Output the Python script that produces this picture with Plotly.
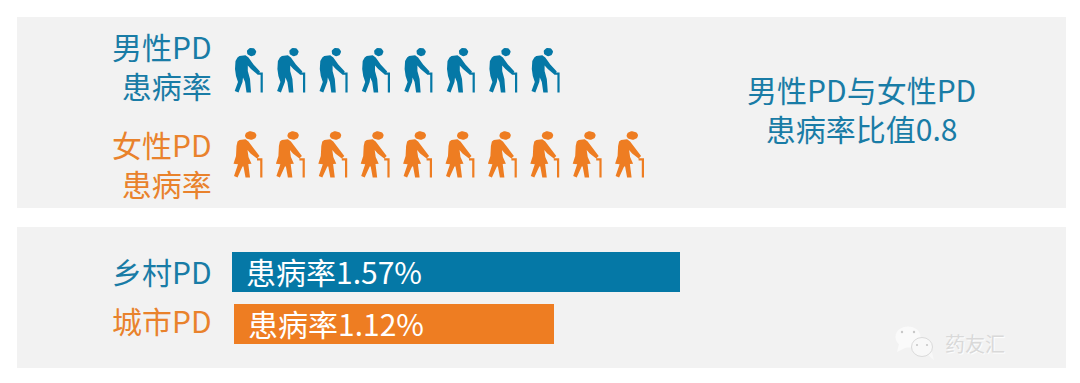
import math
import plotly.graph_objects as go

W, H = 1080, 383
BLUE, ORANGE = "#0578A6", "#EE7D22"
BLUE_TXT, ORANGE_TXT = "#197CA6", "#E9822C"
PANEL = "#F2F2F2"
FONT = "Noto Sans CJK SC, Noto Sans, sans-serif"

# data
area_labels = ["乡村PD", "城市PD"]
area_rates = [1.57, 1.12]
area_bases = [0.0, 0.007]
icon_counts = [8, 10]
ratio_lines = ["男性PD与女性PD", "患病率比值0.8"]

# bar scale / icon grid scale
PX_PER_RATE = 285.35
PITCH = 42.4
ROW = 84.0


def px(v):
    return v / W


def py(v):
    return 1 - v / H


def ellipse(cx, cy, rx, ry, n=28):
    return [(cx + rx * math.cos(2 * math.pi * i / n), cy + ry * math.sin(2 * math.pi * i / n)) for i in range(n)]


male_parts = [
    ellipse(21.5, 8, 4.7, 4.2),
    [(9.5, 12), (15.5, 11.3), (18.5, 13.5), (23.5, 20.5), (30, 27.5), (27.5, 30.5), (21, 25), (17.8, 21.5), (17.8, 27),
     (20, 35), (21, 48.5), (16.5, 48.5), (15, 38), (13, 33.5), (12.5, 38), (8.5, 48.5), (4.7, 47), (8, 38), (6, 32),
     (5, 25), (5.5, 17), (7.5, 13.5)],
    [(27.5, 28.6), (32.8, 28.6), (32.8, 48.5), (30.6, 48.5), (30.6, 30.8), (27.5, 30.8)],
]
female_parts = [
    ellipse(20.7, 7.5, 5.7, 4.3),
    [(9.5, 12), (15.5, 11.3), (18.5, 13.5), (23.5, 20.5), (29.5, 28), (27, 30.5), (20.5, 25.5), (17.5, 22), (18.5, 29),
     (21.5, 35.7), (18.3, 36), (20, 49.5), (15.5, 49.5), (13.5, 38.5), (12.5, 38.5), (7.5, 49.5), (4, 48), (8, 36.2),
     (3.5, 35.7), (6, 28), (6.5, 18), (7.5, 13.5)],
    [(27, 30.3), (32.4, 30.3), (32.4, 49.5), (30.2, 49.5), (30.2, 32.5), (27, 32.5)],
]


def icon_row(row, count, parts):
    xs, ys = [], []
    for i in range(count):
        for part in parts:
            for x, y in part + part[:1]:
                xs.append(i + x / PITCH)
                ys.append(row + y / ROW)
            xs.append(None)
            ys.append(None)
    return xs, ys


fig = go.Figure()
fig.add_trace(go.Bar(
    y=[0, 1], x=area_rates, base=area_bases, orientation="h", width=40 / 52,
    marker=dict(color=[BLUE, ORANGE], line=dict(width=0)), hoverinfo="skip", showlegend=False,
))
for row, (count, parts, color) in enumerate(zip(icon_counts, [male_parts, female_parts], [BLUE, ORANGE])):
    xs, ys = icon_row(row, count, parts)
    fig.add_trace(go.Scatter(
        x=xs, y=ys, xaxis="x2", yaxis="y2", mode="lines", fill="toself", fillcolor=color,
        line=dict(color=color, width=0), hoverinfo="skip", showlegend=False,
    ))

annotations = []


def label(text, x, y, color, size=30, anchor="right", **extra):
    annotations.append(dict(
        text=text, xref="paper", yref="paper", x=px(x), y=py(y), xanchor=anchor, yanchor="middle", align=anchor,
        showarrow=False, font=dict(family=FONT, size=size, color=color, **extra),
    ))


label("男性PD<br>患病率", 214, 66, BLUE_TXT)
label("女性PD<br>患病率", 214, 163, ORANGE_TXT)
label(area_labels[0], 214, 271, BLUE_TXT)
label(area_labels[1], 214, 320, ORANGE_TXT)
label("<br>".join(ratio_lines), 861, 108, BLUE_TXT, anchor="center")
for i, (rate, base) in enumerate(zip(area_rates, area_bases)):
    annotations.append(dict(
        text=f"患病率{rate}%", xref="x", yref="y", x=base, y=i, xanchor="left", yanchor="middle", xshift=12,
        yshift=1, showarrow=False, font=dict(family=FONT, size=30, color="#FFFFFF"),
    ))
label("药友汇", 975, 343, "#D9D9D9", size=20, anchor="center", shadow="1px 1px 1px #FFFFFF")


def rect(x0, y0, x1, y1, color):
    return dict(type="rect", xref="paper", yref="paper", x0=px(x0), x1=px(x1), y0=py(y0), y1=py(y1),
                fillcolor=color, line=dict(width=0), layer="below")


def circle(cx, cy, rx, ry, color, edge=None):
    return dict(type="circle", xref="paper", yref="paper", x0=px(cx - rx), x1=px(cx + rx), y0=py(cy - ry), y1=py(cy + ry),
                fillcolor=color, line=dict(width=1 if edge else 0, color=edge or color), layer="above")


def poly(points, color):
    d = "M" + " L".join(f"{px(x):.5f},{py(y):.5f}" for x, y in points) + " Z"
    return dict(type="path", xref="paper", yref="paper", path=d, fillcolor=color, line=dict(width=0), layer="above")


shapes = [
    rect(17, 17, 1066, 208, PANEL),
    rect(17, 227, 1066, 368, PANEL),
    poly([(899, 344), (897, 352), (907, 347)], "#FAFAFA"),
    circle(908, 337, 12.5, 10.5, "#FAFAFA"),
    circle(902, 332, 1.2, 1.2, "#C8C8C8"),
    circle(914, 332, 1.2, 1.2, "#C8C8C8"),
    poly([(928, 355), (934, 360), (932, 352)], "#F8F8F8"),
    circle(922, 347, 10.5, 9.5, "#F8F8F8", "#DADADA"),
    circle(917, 345, 1.1, 1.1, "#C8C8C8"),
    circle(927, 345, 1.1, 1.1, "#C8C8C8"),
]

fig.update_layout(
    width=W, height=H, margin=dict(l=0, r=0, t=0, b=0), autosize=False,
    paper_bgcolor="#FFFFFF", plot_bgcolor="rgba(0,0,0,0)", showlegend=False,
    bargap=0, annotations=annotations, shapes=shapes,
    xaxis=dict(visible=False, range=[-232 / PX_PER_RATE, (W - 232) / PX_PER_RATE], domain=[0, 1]),
    yaxis=dict(visible=False, range=[(H - 272) / 52, -272 / 52], domain=[0, 1]),
    xaxis2=dict(visible=False, overlaying="x", range=[-230 / PITCH, (W - 230) / PITCH]),
    yaxis2=dict(visible=False, overlaying="y", range=[(H - 44) / ROW, -44 / ROW]),
)
fig.write_html(
    "out.html", config=dict(displayModeBar=False),
    post_script="document.body.style.margin='0';document.documentElement.style.overflow='hidden';",
)
